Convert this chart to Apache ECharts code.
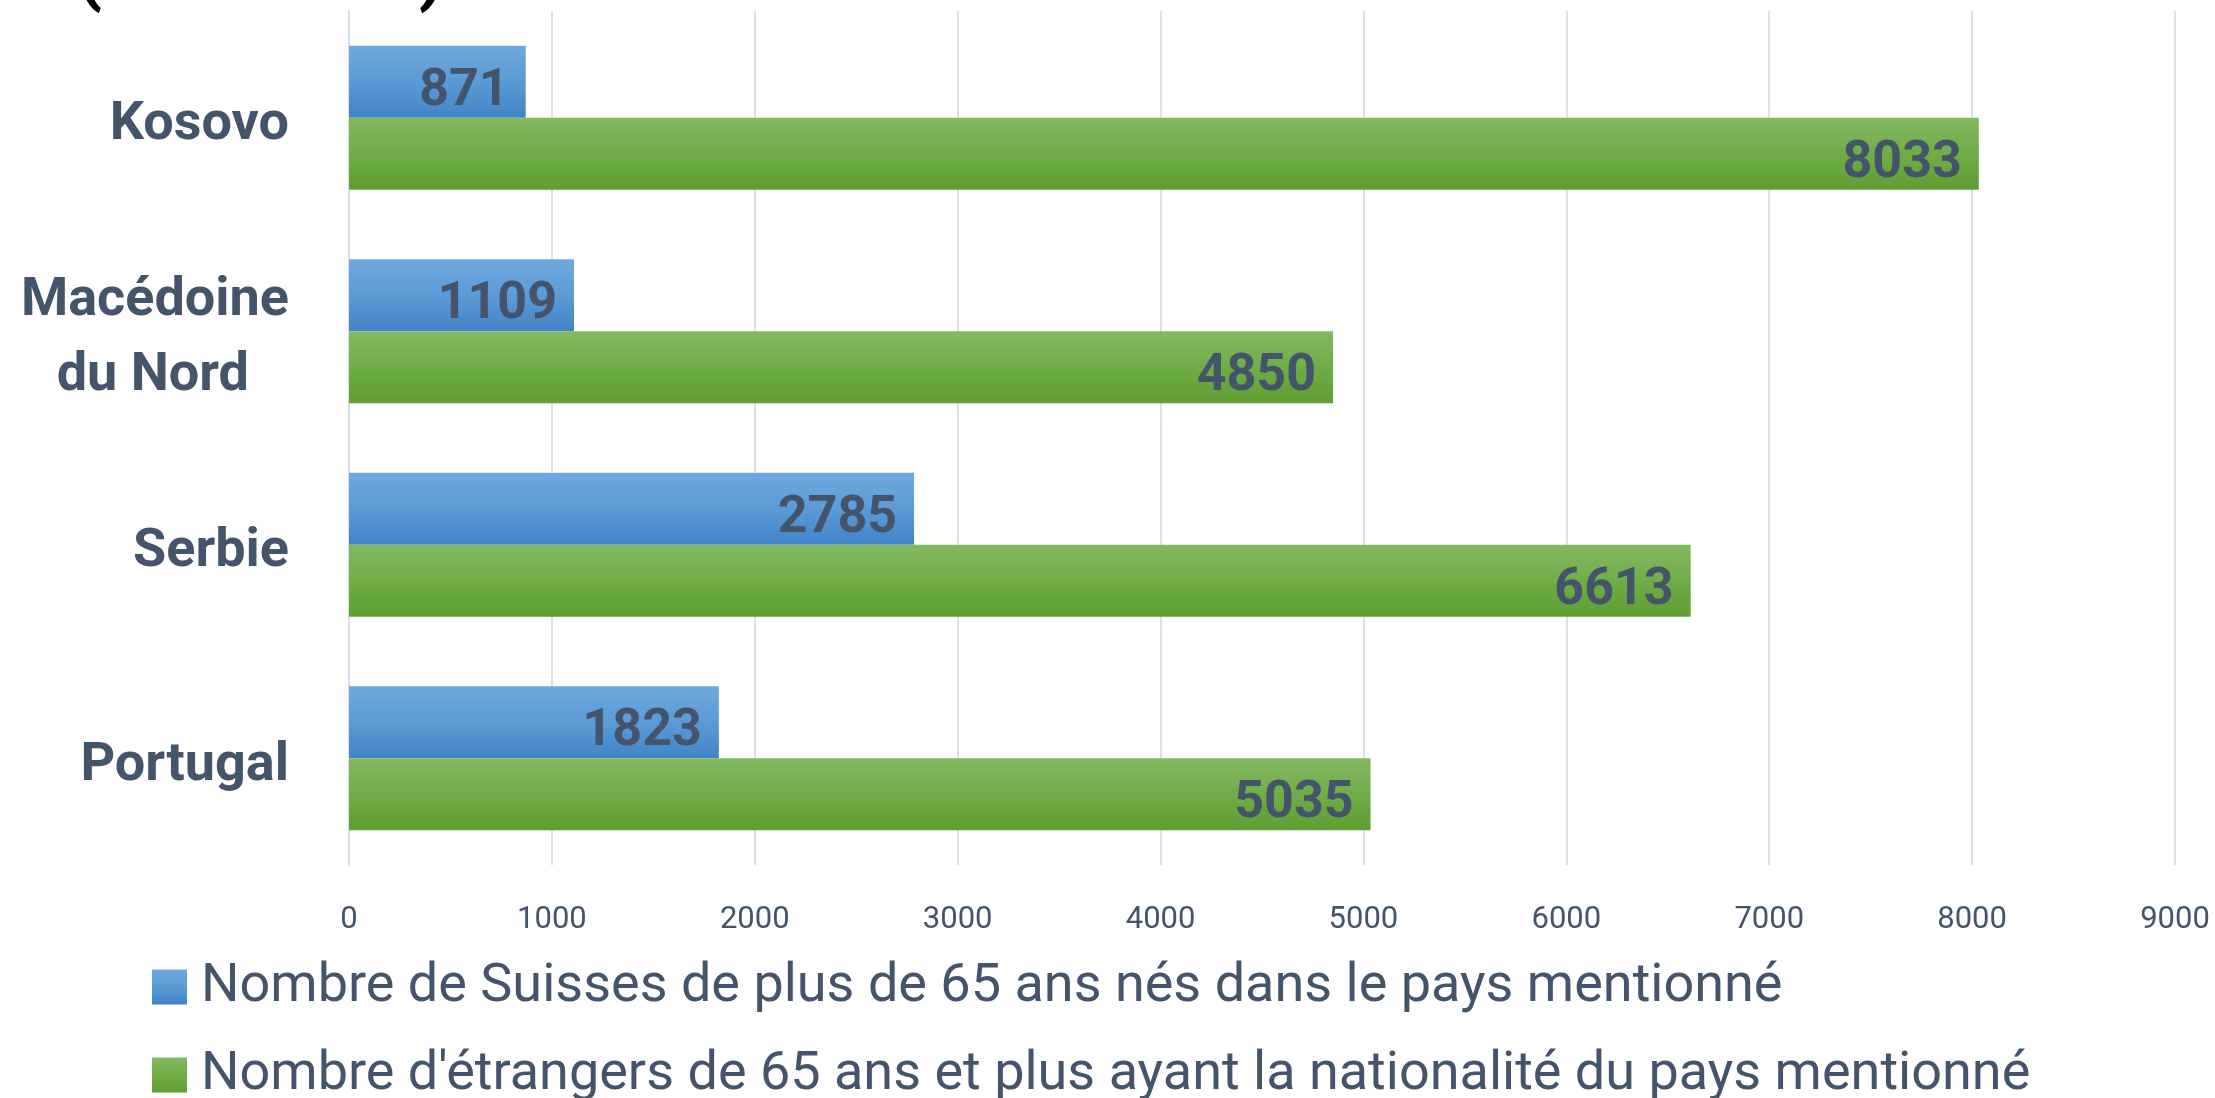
<!DOCTYPE html>
<html>
<head>
<meta charset="utf-8">
<script src="https://cdn.jsdelivr.net/npm/echarts@6/dist/echarts.min.js"></script>
<style>
  html, body { margin: 0; padding: 0; background: #fff; }
  #chart { width: 2215px; height: 1098px; }
</style>
</head>
<body>
<div id="chart"></div>
<script>
// ---------- données ----------
var pays = ['Kosovo', 'Macédoine\ndu Nord', 'Serbie', 'Portugal'];
var suisses = [871, 1109, 2785, 1823];
var etrangers = [8033, 4850, 6613, 5035];
var nomSuisses = 'Nombre de Suisses de plus de 65 ans nés dans le pays mentionné';
var nomEtrangers = "Nombre d'étrangers de 65 ans et plus ayant la nationalité du pays mentionné";
var titre = '(OFS 2022)';

var texte = '#44546a';

function degrade(haut, milieu, bas) {
    return new echarts.graphic.LinearGradient(0, 0, 0, 1, [
        {offset: 0, color: haut},
        {offset: 0.5, color: milieu},
        {offset: 1, color: bas}
    ]);
}

var etiquette = {
    show: true,
    position: 'insideRight',
    distance: 17,
    offset: [0, 10],
    fontFamily: 'Roboto',
    fontWeight: 'bold',
    fontSize: 52,
    color: texte
};

// une légende par ligne
function legende(nom, haut) {
    return {
        type: 'plain',
        orient: 'vertical',
        left: 152,
        top: haut,
        padding: 0,
        itemWidth: 35,
        itemHeight: 35,
        icon: 'rect',
        textStyle: {
            fontFamily: 'Roboto',
            fontSize: 54,
            lineHeight: 40,
            color: texte,
            padding: [0, 0, 0, 9]
        },
        data: [nom]
    };
}

var chart = echarts.init(document.getElementById('chart'));

var option = {
    backgroundColor: '#fff',
    animation: false,
    graphic: [{
        type: 'text',
        left: 77,
        top: -57,
        style: {
            text: titre,
            font: 'bold 72px Roboto',
            fill: '#000'
        }
    }],
    legend: [legende(nomSuisses, 960), legende(nomEtrangers, 1048)],
    grid: {
        left: 349,
        right: 40,
        top: 11,
        bottom: 233
    },
    xAxis: {
        type: 'value',
        min: 0,
        max: 9000,
        interval: 1000,
        axisLine: {show: false},
        axisTick: {show: false},
        splitLine: {lineStyle: {color: '#dde1e6', width: 2}},
        axisLabel: {
            margin: 40,
            fontFamily: 'Roboto',
            fontSize: 31,
            color: texte,
            formatter: function (v) { return String(v); }
        }
    },
    yAxis: {
        type: 'category',
        inverse: true,
        data: pays,
        axisLine: {show: true, lineStyle: {color: '#dde1e6', width: 2}},
        axisTick: {show: false},
        axisLabel: {
            margin: 60,
            fontFamily: 'Roboto',
            fontWeight: 'bold',
            fontSize: 54,
            lineHeight: 75,
            color: texte,
            padding: [16, 0, 0, 0],
            formatter: function (v) {
                var l = v.split('\n');
                if (l.length > 1) {
                    return l[0] + '\n{b|' + l[1] + '}';
                }
                return v;
            },
            rich: {
                b: {
                    fontFamily: 'Roboto',
                    fontWeight: 'bold',
                    fontSize: 54,
                    lineHeight: 75,
                    color: texte,
                    padding: [0, 40, 0, 0]
                }
            }
        }
    },
    series: [
        {
            name: nomSuisses,
            type: 'bar',
            data: suisses,
            barWidth: 72,
            barGap: '0%',
            itemStyle: {color: degrade('#70a8df', '#5b9bd5', '#4183c8')},
            label: etiquette
        },
        {
            name: nomEtrangers,
            type: 'bar',
            data: etrangers,
            barWidth: 72,
            barGap: '0%',
            itemStyle: {color: degrade('#84b962', '#70ad47', '#5f9e32')},
            label: etiquette
        }
    ]
};

chart.setOption(option);
</script>
</body>
</html>
